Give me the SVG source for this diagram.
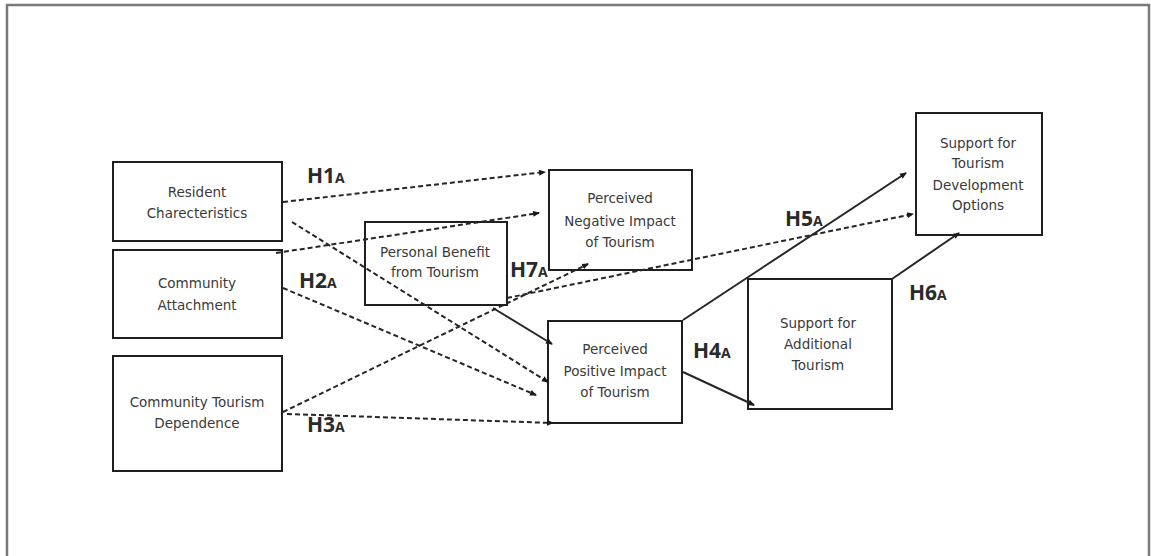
<svg xmlns="http://www.w3.org/2000/svg" width="1151" height="556" viewBox="0 0 1151 556">
<defs>
<marker id="ah" markerWidth="8" markerHeight="8" refX="6" refY="4" orient="auto" markerUnits="userSpaceOnUse">
<path d="M0,1 L7,4 L0,7 Z" fill="#1a1a1a"/>
</marker>
<style>
.box{fill:none;stroke:#1f1f1f;stroke-width:2}
.nt{font-family:"DejaVu Sans","Liberation Sans",sans-serif;font-size:13.5px;fill:#3a3a3a;text-anchor:middle}
.lab{font-family:"Open Sans","Liberation Sans",sans-serif;font-weight:bold;font-size:21px;fill:#2a2a2a}
.sub{font-size:14px}
.dash{fill:none;stroke:#262626;stroke-width:2;stroke-dasharray:5 3;marker-end:url(#ah)}
.solid{fill:none;stroke:#262626;stroke-width:2;marker-end:url(#ah)}
</style>
</defs>
<rect width="1151" height="556" fill="#fff"/>
<path d="M7,556 L7,5 L1149,5 L1149,556" fill="none" stroke="#7a7a7a" stroke-width="2.5"/>

<g id="resident">
<rect class="box" x="113" y="162" width="169" height="79"/>
<text class="nt" x="197" y="197">Resident</text>
<text class="nt" x="197" y="218">Charecteristics</text>
</g>
<g id="attachment">
<rect class="box" x="113" y="250" width="169" height="88"/>
<text class="nt" x="197" y="288">Community</text>
<text class="nt" x="197" y="310">Attachment</text>
</g>
<g id="dependence">
<rect class="box" x="113" y="356" width="169" height="115"/>
<text class="nt" x="197" y="407">Community Tourism</text>
<text class="nt" x="197" y="428">Dependence</text>
</g>
<g id="benefit">
<rect class="box" x="365" y="222" width="142" height="83"/>
<text class="nt" x="435" y="257">Personal Benefit</text>
<text class="nt" x="435" y="277">from Tourism</text>
</g>
<g id="negative">
<rect class="box" x="549" y="170" width="143" height="100"/>
<text class="nt" x="620" y="203">Perceived</text>
<text class="nt" x="620" y="226">Negative Impact</text>
<text class="nt" x="620" y="247">of Tourism</text>
</g>
<g id="positive">
<rect class="box" x="548" y="321" width="134" height="102"/>
<text class="nt" x="615" y="354">Perceived</text>
<text class="nt" x="615" y="376">Positive Impact</text>
<text class="nt" x="615" y="397">of Tourism</text>
</g>
<g id="additional">
<rect class="box" x="748" y="279" width="144" height="130"/>
<text class="nt" x="818" y="328">Support for</text>
<text class="nt" x="818" y="349">Additional</text>
<text class="nt" x="818" y="370">Tourism</text>
</g>
<g id="development">
<rect class="box" x="916" y="113" width="126" height="122"/>
<text class="nt" x="978" y="148">Support for</text>
<text class="nt" x="978" y="168">Tourism</text>
<text class="nt" x="978" y="190">Development</text>
<text class="nt" x="978" y="210">Options</text>
</g>

<g id="connectors">
<line class="dash" x1="283" y1="202" x2="545" y2="172"/>
<line class="dash" x1="292" y1="222" x2="548" y2="382"/>
<line class="dash" x1="276" y1="253" x2="539" y2="213"/>
<line class="dash" x1="283" y1="288" x2="536" y2="395"/>
<line class="dash" x1="283" y1="412" x2="588" y2="264"/>
<line class="dash" x1="287" y1="414" x2="553" y2="423"/>
<line class="solid" x1="493" y1="308" x2="552" y2="344"/>
<line class="dash" x1="507" y1="298" x2="913" y2="214"/>
<line class="solid" x1="683" y1="320" x2="906" y2="173"/>
<line class="solid" x1="683" y1="372" x2="754" y2="405"/>
<line class="solid" x1="892" y1="279" x2="959" y2="233"/>
</g>

<g id="labels">
<text class="lab" x="307" y="183">H1<tspan class="sub">A</tspan></text>
<text class="lab" x="299" y="288">H2<tspan class="sub">A</tspan></text>
<text class="lab" x="307" y="432">H3<tspan class="sub">A</tspan></text>
<text class="lab" x="693" y="358">H4<tspan class="sub">A</tspan></text>
<text class="lab" x="785" y="226">H5<tspan class="sub">A</tspan></text>
<text class="lab" x="909" y="300">H6<tspan class="sub">A</tspan></text>
<text class="lab" x="510" y="277">H7<tspan class="sub">A</tspan></text>
</g>
</svg>
